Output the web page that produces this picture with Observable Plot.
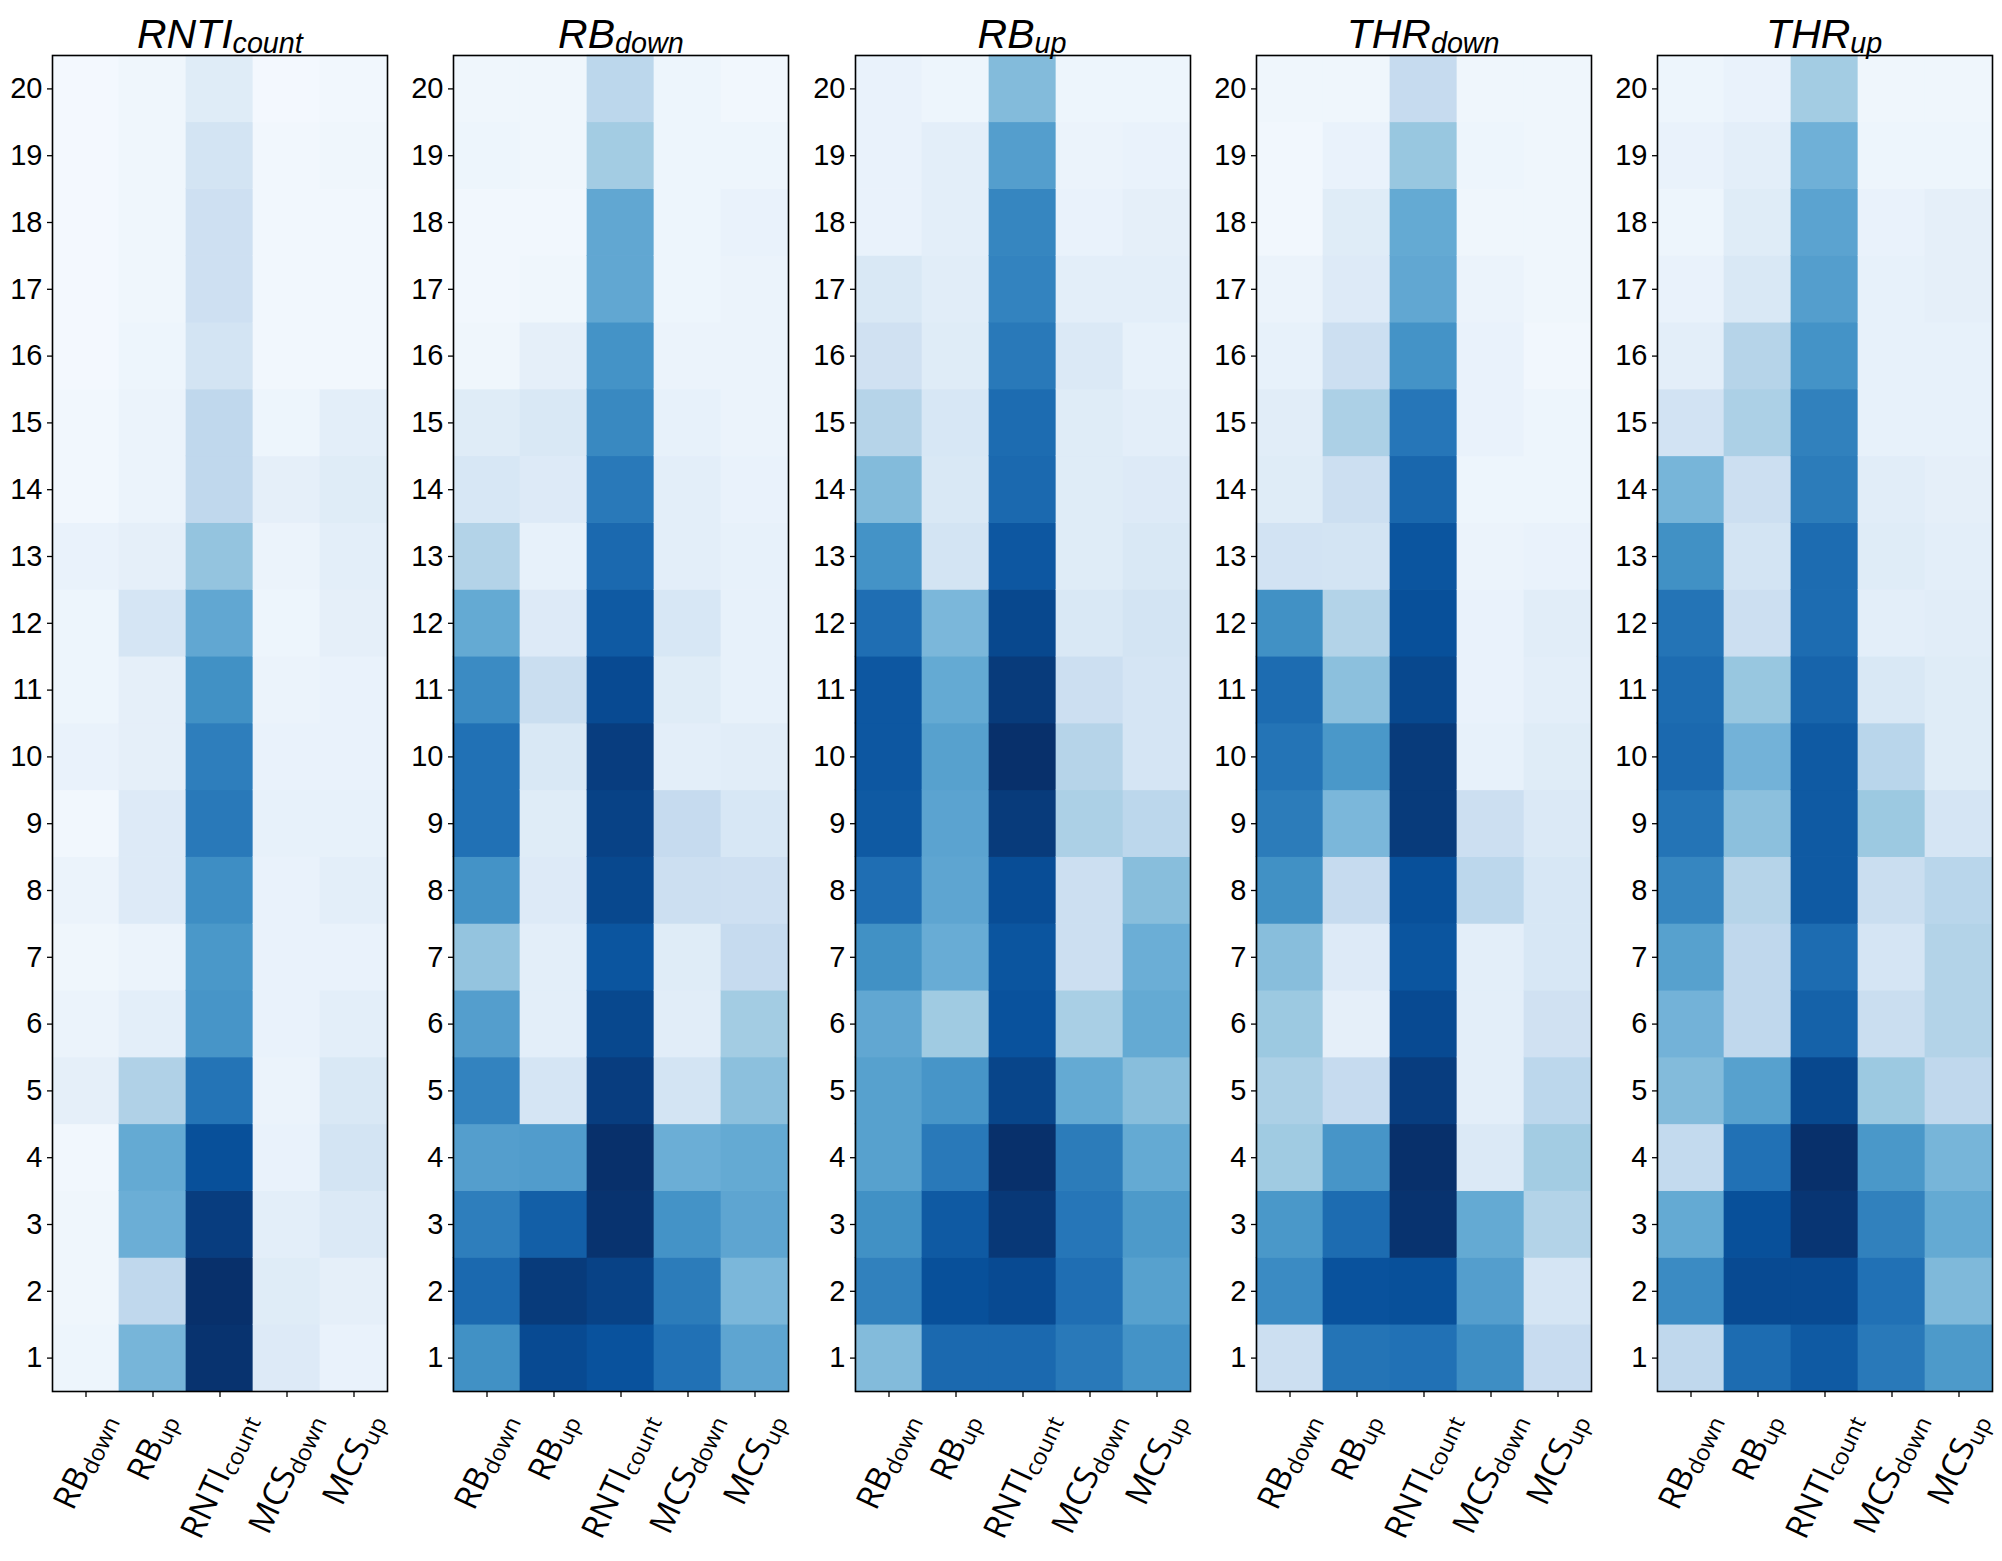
<!DOCTYPE html>
<html><head><meta charset="utf-8">
<script src="https://cdn.jsdelivr.net/npm/d3@7"></script>
<script src="https://cdn.jsdelivr.net/npm/@observablehq/plot@0.6"></script>
<style>
body{margin:0;background:#fff;}
#chart{position:relative;width:2002px;height:1561px;overflow:hidden;background:#fff;}
.panel{position:absolute;top:0;width:400px;height:1561px;}
.title{position:absolute;top:14px;left:52px;width:335px;text-align:center;font-family:"Liberation Sans",Arial,sans-serif;font-style:italic;font-size:41px;line-height:41px;white-space:nowrap;color:#000;z-index:2;}
.title span{font-size:0.7em;position:relative;top:5px;}
</style></head>
<body><div id="chart"></div>
<script>
// ---- data ----
const panelKeys = ["RNTI_count", "RB_down", "RB_up", "THR_down", "THR_up"];
const colKeys = ["RB_down", "RB_up", "RNTI_count", "MCS_down", "MCS_up"];
const rowLabels = [1,2,3,4,5,6,7,8,9,10,11,12,13,14,15,16,17,18,19,20];

// values per panel: one array per column (rows 1..20)
const rntiCount_RBdown  = [0.05,0.04,0.04,0.03,0.09,0.06,0.04,0.06,0.03,0.07,0.05,0.05,0.07,0.03,0.03,0.02,0.02,0.02,0.02,0.02];
const rntiCount_RBup    = [0.47,0.27,0.50,0.52,0.32,0.10,0.06,0.13,0.13,0.09,0.09,0.17,0.09,0.06,0.06,0.05,0.04,0.04,0.04,0.04];
const rntiCount_RNTI    = [0.99,1.00,0.95,0.88,0.74,0.61,0.60,0.64,0.72,0.70,0.63,0.53,0.40,0.27,0.27,0.18,0.21,0.21,0.18,0.12];
const rntiCount_MCSdown = [0.13,0.12,0.10,0.07,0.06,0.07,0.07,0.07,0.08,0.07,0.06,0.05,0.06,0.09,0.05,0.03,0.03,0.03,0.03,0.02];
const rntiCount_MCSup   = [0.07,0.09,0.14,0.18,0.15,0.10,0.07,0.10,0.08,0.07,0.07,0.09,0.10,0.12,0.10,0.03,0.03,0.03,0.04,0.03];

const rbDown_RBdown  = [0.63,0.78,0.70,0.57,0.68,0.57,0.40,0.62,0.75,0.75,0.65,0.52,0.31,0.16,0.12,0.04,0.03,0.03,0.05,0.04];
const rbDown_RBup    = [0.90,0.96,0.82,0.58,0.17,0.10,0.10,0.13,0.12,0.15,0.23,0.13,0.08,0.13,0.15,0.09,0.04,0.03,0.04,0.04];
const rbDown_RNTI    = [0.87,0.93,0.99,1.00,0.95,0.91,0.86,0.91,0.93,0.95,0.90,0.84,0.78,0.72,0.66,0.62,0.53,0.53,0.36,0.28];
const rbDown_MCSdown = [0.75,0.71,0.62,0.50,0.18,0.11,0.12,0.22,0.25,0.10,0.12,0.16,0.10,0.10,0.08,0.06,0.05,0.05,0.05,0.05];
const rbDown_MCSup   = [0.54,0.46,0.54,0.52,0.42,0.36,0.25,0.21,0.16,0.11,0.08,0.08,0.08,0.07,0.06,0.06,0.06,0.07,0.05,0.03];

const rbUp_RBdown  = [0.44,0.69,0.63,0.56,0.56,0.53,0.63,0.76,0.84,0.85,0.85,0.76,0.62,0.44,0.30,0.20,0.15,0.07,0.07,0.07];
const rbUp_RBup    = [0.78,0.88,0.84,0.72,0.61,0.37,0.51,0.54,0.55,0.56,0.52,0.46,0.18,0.15,0.16,0.12,0.11,0.10,0.10,0.05];
const rbUp_RNTI    = [0.78,0.90,0.97,1.00,0.92,0.87,0.86,0.89,0.96,1.00,0.96,0.91,0.85,0.78,0.77,0.72,0.68,0.67,0.57,0.44];
const rbUp_MCSdown = [0.72,0.76,0.73,0.71,0.52,0.34,0.22,0.22,0.33,0.30,0.22,0.15,0.12,0.12,0.12,0.14,0.10,0.07,0.06,0.05];
const rbUp_MCSup   = [0.62,0.56,0.59,0.52,0.43,0.52,0.50,0.43,0.28,0.17,0.17,0.18,0.15,0.13,0.10,0.08,0.10,0.09,0.07,0.05];

const thrDown_RBdown  = [0.22,0.65,0.60,0.37,0.33,0.38,0.43,0.63,0.71,0.74,0.77,0.63,0.19,0.12,0.11,0.08,0.06,0.03,0.03,0.04];
const thrDown_RBup    = [0.74,0.87,0.77,0.61,0.25,0.09,0.13,0.25,0.46,0.60,0.42,0.31,0.18,0.22,0.33,0.22,0.13,0.12,0.07,0.04];
const thrDown_RNTI    = [0.75,0.88,0.99,1.00,0.95,0.90,0.86,0.88,0.96,0.96,0.91,0.88,0.86,0.79,0.73,0.62,0.53,0.52,0.39,0.25];
const thrDown_MCSdown = [0.64,0.57,0.52,0.14,0.10,0.10,0.10,0.28,0.22,0.08,0.07,0.07,0.06,0.05,0.07,0.07,0.06,0.04,0.05,0.04];
const thrDown_MCSup   = [0.24,0.17,0.31,0.36,0.28,0.20,0.16,0.16,0.14,0.12,0.10,0.11,0.07,0.05,0.05,0.03,0.04,0.04,0.04,0.04];

const thrUp_RBdown  = [0.27,0.65,0.52,0.26,0.44,0.48,0.56,0.67,0.74,0.78,0.77,0.74,0.63,0.47,0.19,0.10,0.07,0.05,0.07,0.05];
const thrUp_RBup    = [0.77,0.90,0.88,0.75,0.56,0.27,0.27,0.30,0.42,0.48,0.39,0.22,0.18,0.22,0.33,0.30,0.15,0.12,0.10,0.07];
const thrUp_RNTI    = [0.84,0.90,0.98,1.00,0.91,0.81,0.77,0.84,0.84,0.84,0.80,0.77,0.77,0.71,0.69,0.62,0.57,0.55,0.49,0.36];
const thrUp_MCSdown = [0.72,0.75,0.69,0.60,0.38,0.23,0.17,0.23,0.38,0.29,0.15,0.10,0.12,0.11,0.08,0.08,0.08,0.07,0.05,0.04];
const thrUp_MCSup   = [0.59,0.45,0.52,0.47,0.27,0.31,0.31,0.29,0.17,0.12,0.12,0.11,0.10,0.09,0.08,0.08,0.09,0.09,0.05,0.04];

const panelValues = [
  [rntiCount_RBdown, rntiCount_RBup, rntiCount_RNTI, rntiCount_MCSdown, rntiCount_MCSup],
  [rbDown_RBdown, rbDown_RBup, rbDown_RNTI, rbDown_MCSdown, rbDown_MCSup],
  [rbUp_RBdown, rbUp_RBup, rbUp_RNTI, rbUp_MCSdown, rbUp_MCSup],
  [thrDown_RBdown, thrDown_RBup, thrDown_RNTI, thrDown_MCSdown, thrDown_MCSup],
  [thrUp_RBdown, thrUp_RBup, thrUp_RNTI, thrUp_MCSdown, thrUp_MCSup]
];

// matplotlib "Blues" palette stops
const bluesStops = [0, 0.125, 0.25, 0.375, 0.5, 0.625, 0.75, 0.875, 1];
const bluesColors = ["#f7fbff","#deebf7","#c6dbef","#9ecae1","#6baed6","#4292c6","#2171b5","#08519c","#08306b"];

// ---- layout ----
const chart = document.getElementById("chart");
const W = 400, H = 1561, mL = 52, mR = 13, mT = 55, mB = 170;
const xLabelTop = 1411, rot = 65, xFont = 33;

panelKeys.forEach((pk, pi) => {
  const table = [];
  colKeys.forEach((c, ci) => panelValues[pi][ci].forEach((v, ri) => table.push({col: c, row: rowLabels[ri], v})));

  const div = document.createElement("div");
  div.className = "panel";
  div.style.left = (0.3 + 401.1 * pi) + "px";
  const [tm, ts] = pk.split("_");
  const title = document.createElement("div");
  title.className = "title";
  title.innerHTML = tm + "<span>" + ts + "</span>";
  div.appendChild(title);
  chart.appendChild(div);

  const plot = Plot.plot({
    width: W, height: H,
    marginLeft: mL, marginRight: mR, marginTop: mT, marginBottom: mB,
    style: {fontFamily: "'Liberation Sans', Arial, sans-serif", color: "#000", background: "transparent", overflow: "visible"},
    x: {domain: colKeys, padding: 0, round: false},
    y: {domain: rowLabels.slice().reverse(), padding: 0, round: false},
    color: {type: "linear", domain: bluesStops, range: bluesColors, interpolate: "rgb", clamp: true},
    marks: [
      Plot.cell(table, {x: "col", y: "row", fill: "v", inset: -0.35}),
      Plot.frame({stroke: "#000", strokeWidth: 1.6}),
      Plot.axisY({tickSize: 5, tickPadding: 5, fontSize: 29, label: null, strokeWidth: 1.3}),
      Plot.axisX({tickSize: 6, label: null, strokeWidth: 1.3, tickFormat: () => ""})
    ]
  });
  div.appendChild(plot);
  plot.querySelectorAll('g[aria-label="x-axis tick label"]').forEach(g => g.remove());

  // x tick labels positioned with Plot's x scale (band centres), matplotlib-like rotation
  const xs = plot.scale("x");
  const bw = xs.bandwidth || 0;
  const gl = d3.select(plot).append("g")
    .attr("aria-label", "x-axis tick label")
    .attr("font-family", "'Open Sans', 'DejaVu Sans', sans-serif")
    .attr("font-size", xFont)
    .attr("fill", "#000");
  colKeys.forEach(key => {
    const [m, s] = key.split("_");
    const cx = xs.apply(key) + bw / 2;
    const t = gl.append("text").attr("text-anchor", "middle");
    t.append("tspan").text(m);
    t.append("tspan").attr("font-size", (xFont * 0.7).toFixed(1)).attr("dy", (xFont * 0.15).toFixed(1)).text(s);
    const L = t.node().getComputedTextLength();
    const a = rot * Math.PI / 180;
    const h = 0.62 * xFont;
    const half = (L * Math.sin(a) + h * Math.cos(a)) / 2;
    t.attr("transform", `translate(${cx.toFixed(2)},${(xLabelTop + half).toFixed(2)}) rotate(${-rot}) translate(0,${(0.3 * xFont).toFixed(2)})`);
  });
});
</script>
</body></html>
